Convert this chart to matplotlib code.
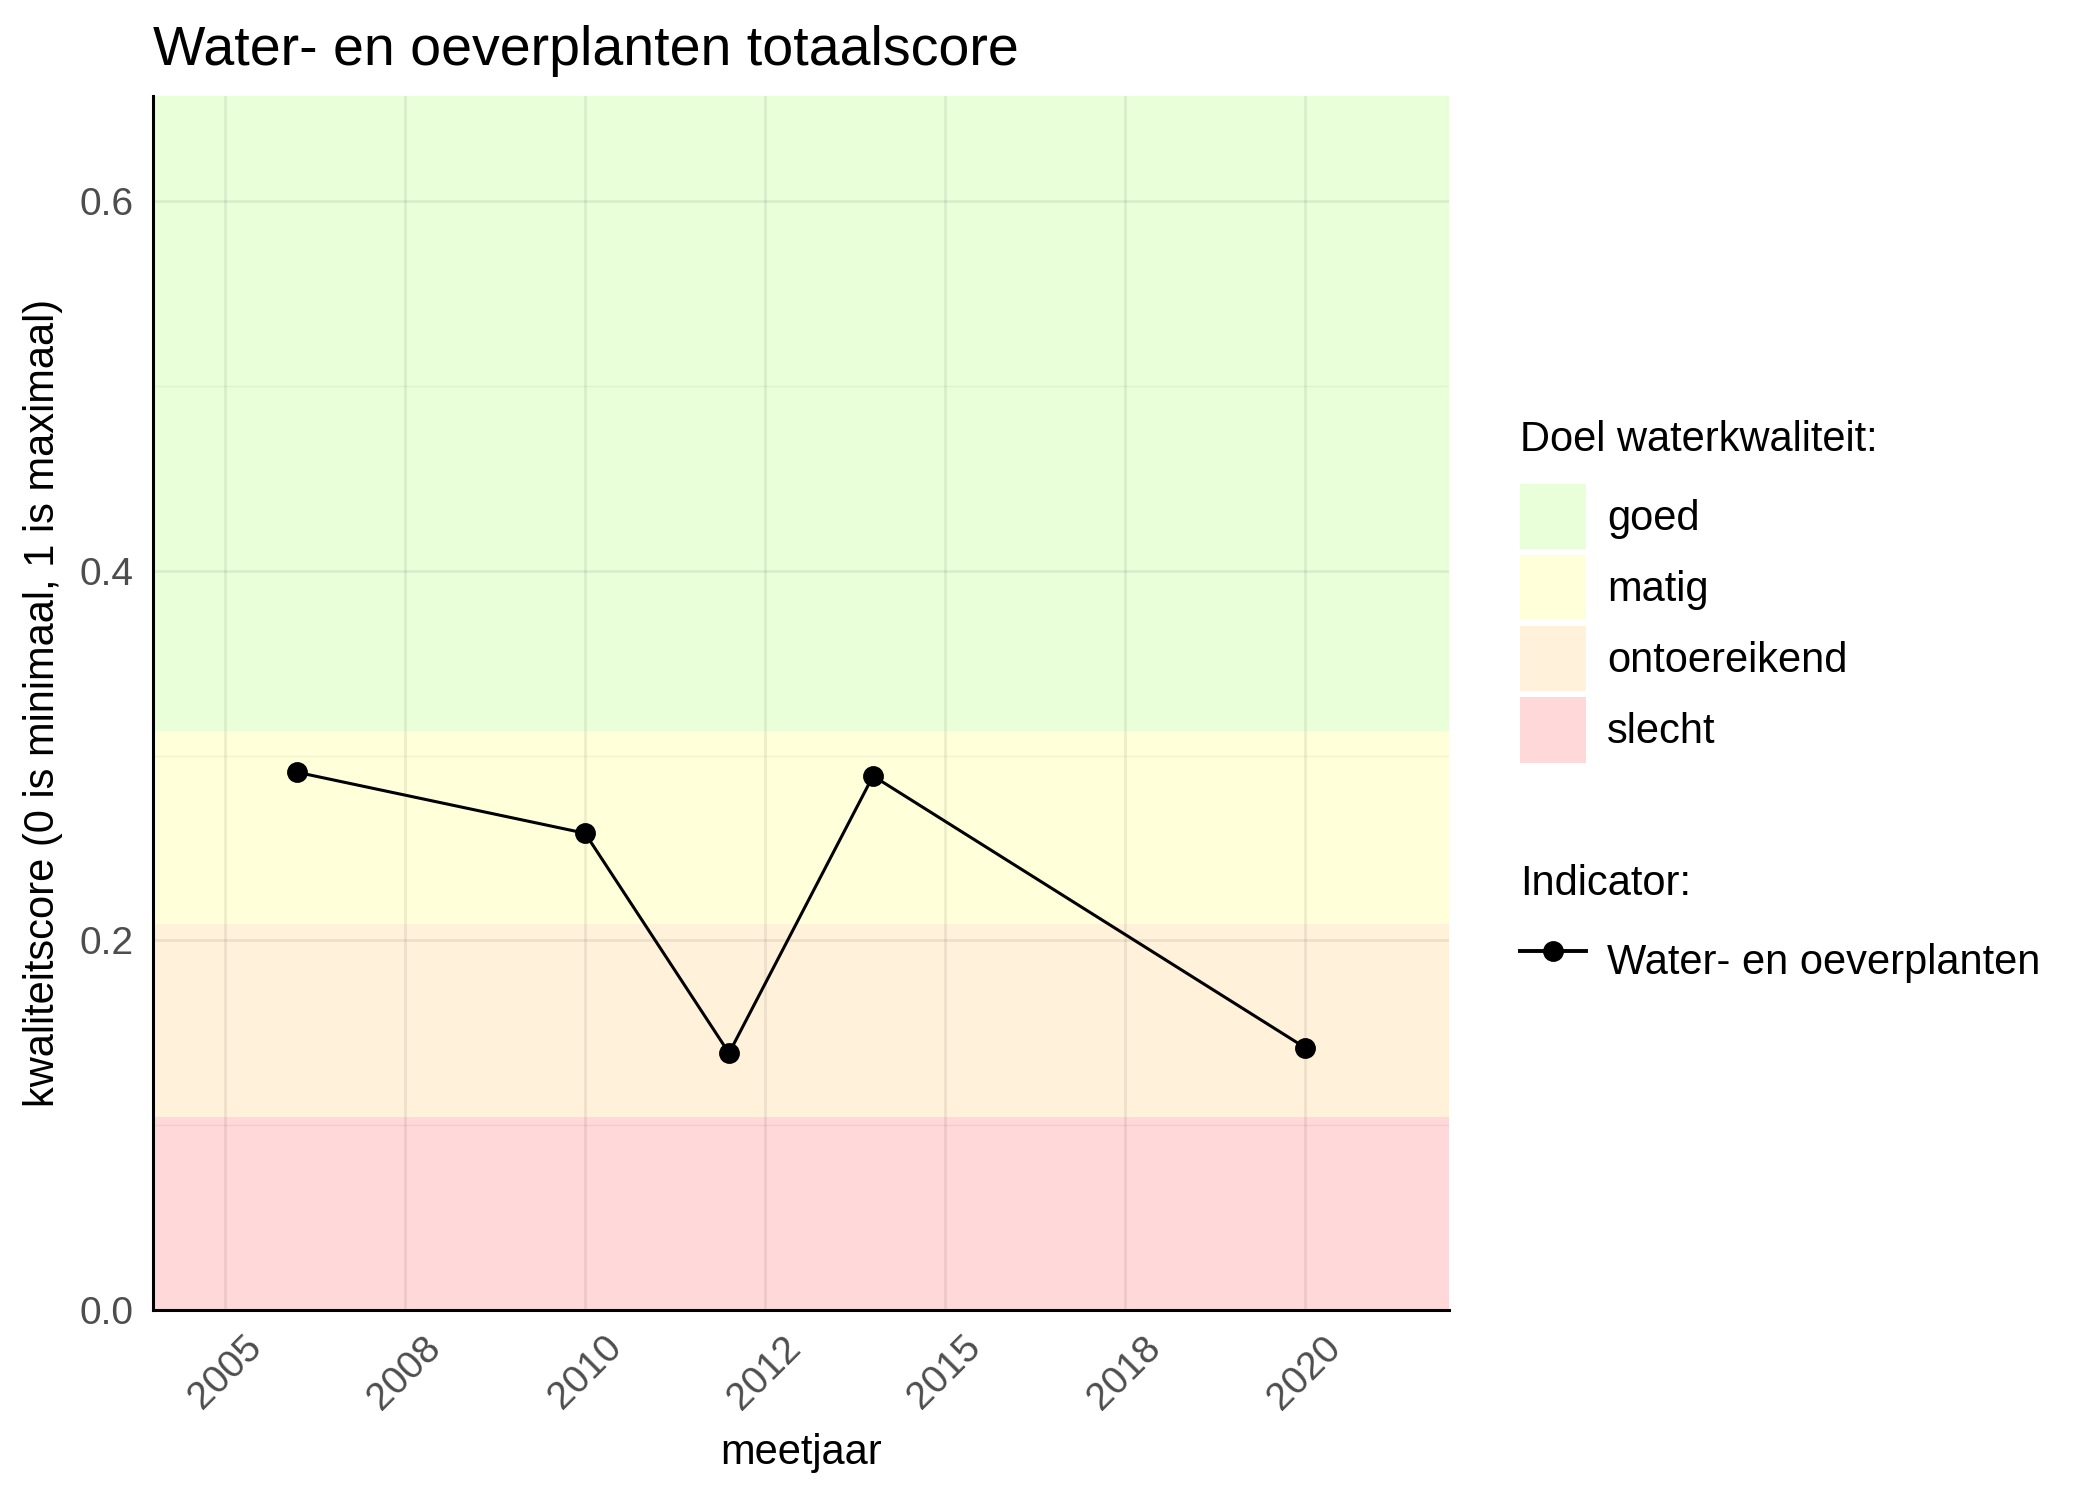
import matplotlib
matplotlib.use("Agg")
import matplotlib.pyplot as plt
from matplotlib.patches import Patch
from matplotlib.lines import Line2D
import numpy as np

plt.rcParams['font.family'] = ['Liberation Sans', 'DejaVu Sans']

# meetgegevens
jaren = [2006, 2010, 2012, 2014, 2020]
scores = [0.291, 0.258, 0.139, 0.289, 0.142]

# klassegrenzen (boven naar beneden)
klassen = ['goed', 'matig', 'ontoereikend', 'slecht']
klasse_onder = [0.3135, 0.209, 0.1045, 0.0]
klasse_boven = [1.0, 0.3135, 0.209, 0.1045]
klasse_kleur = ['#E9FFD9', '#FFFFDA', '#FFF1DA', '#FFD8D9']

tick_pos = [2005, 2007.5, 2010, 2012.5, 2015, 2017.5, 2020]
tick_lab = ['2005', '2008', '2010', '2012', '2015', '2018', '2020']

fig = plt.figure(figsize=(10.5, 7.5), dpi=200)
ax = fig.add_axes([0.0729, 0.1267, 0.6171, 0.8093])

for lo, hi, c in zip(klasse_onder, klasse_boven, klasse_kleur):
    ax.axhspan(lo, hi, color=c, lw=0, zorder=0)

ax.plot(jaren, scores, color='black', lw=1.1, marker='o', ms=6.5, zorder=3)

ax.set_xlim(2004, 2022)
ax.set_ylim(0, 0.657)
ax.set_xticks(tick_pos)
ax.set_xticklabels(tick_lab, rotation=45, ha='center', va='top')
ax.set_yticks([0.0, 0.2, 0.4, 0.6])
ax.set_yticklabels(['0.0', '0.2', '0.4', '0.6'])
ax.set_yticks([0.1, 0.3, 0.5], minor=True)

ax.grid(which='major', color='black', alpha=0.07, lw=1.0)
ax.grid(which='minor', axis='y', color='black', alpha=0.05, lw=0.5)
ax.tick_params(which='both', length=0, labelsize=14, labelcolor='#4D4D4D')
ax.tick_params(axis='y', pad=7)
ax.tick_params(axis='x', pad=7)

for s in ['top', 'right']:
    ax.spines[s].set_visible(False)
for s in ['left', 'bottom']:
    ax.spines[s].set_linewidth(1.1)
    ax.spines[s].set_color('black')

ax.set_xlabel('meetjaar', fontsize=15, labelpad=6)
ax.set_ylabel('kwaliteitscore (0 is minimaal, 1 is maximaal)', fontsize=15, labelpad=6)
ax.set_title('Water- en oeverplanten totaalscore', loc='left', fontsize=20, pad=11)

legend_kw = dict(loc='upper left', frameon=False, fontsize=15, title_fontsize=15,
                 handlelength=1.58, handleheight=2.045, labelspacing=0.133,
                 handletextpad=0.5, borderpad=0, borderaxespad=0, alignment='left')

h1 = [Patch(facecolor=c, edgecolor='none') for c in klasse_kleur]
leg1 = fig.legend(handles=h1, labels=klassen, title='Doel waterkwaliteit:',
                  bbox_to_anchor=(0.724, 0.72), **legend_kw)
leg1._legend_box.sep = 8.5

h2 = [Line2D([], [], color='black', lw=1.4, marker='o', ms=6.5)]
leg2 = fig.legend(handles=h2, labels=['Water- en oeverplanten'], title='Indicator:',
                  bbox_to_anchor=(0.724, 0.424), **legend_kw)
leg2._legend_box.sep = 8.5

fig.savefig('out.png', dpi=200)
